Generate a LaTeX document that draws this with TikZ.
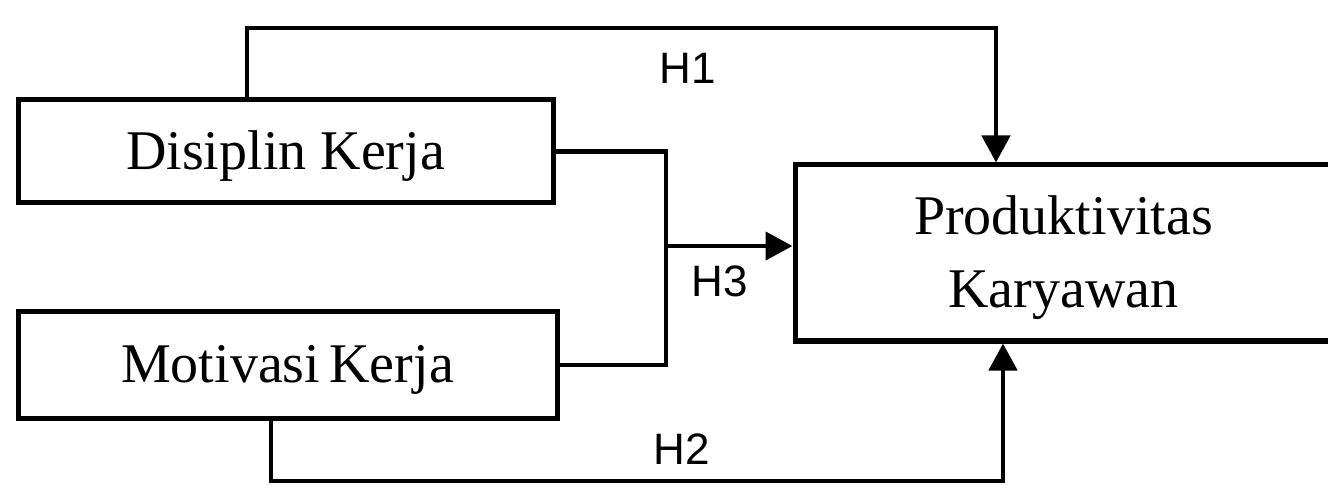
\documentclass[tikz,border=0pt]{standalone}
\usepackage{fontspec}
\setmainfont{Liberation Serif}
\newfontfamily\labfont{Liberation Sans}
\usetikzlibrary{arrows.meta}
\begin{document}
\begin{tikzpicture}[x=1pt,y=-1pt,
  varbox/.style={draw=black, line width=5pt, inner sep=0pt, align=center,
    font=\fontsize{56}{72}\selectfont},
  conn/.style={draw=black, line width=4.5pt},
  arr/.style={conn, -{Triangle[length=27pt,width=28pt]}},
  hlab/.style={font=\labfont\fontsize{44}{44}\selectfont, inner sep=0pt}]
\useasboundingbox (0,0) rectangle (1328,486);
\clip (0,0) rectangle (1328,486);
\fill[white] (0,0) rectangle (1328,486);
\node[varbox, minimum width=535pt, minimum height=103pt] (dk) at (285.5,151.5) {\raisebox{-5pt}[\height][\depth]{Disiplin Kerja}};
\node[varbox, minimum width=539pt, minimum height=106pt] (mk) at (287.5,365) {\raisebox{-5pt}[\height][\depth]{Motivasi\,Kerja}};
\node[varbox, minimum width=537pt, minimum height=176pt] (pk) at (1063.5,253) {\raisebox{-4pt}[\height][\depth]{\begin{tabular}{@{}c@{}}Produktivitas\\[1pt]Karyawan\end{tabular}}};
\coordinate (h1l) at (247,28);
\coordinate (h1r) at (996,28);
\coordinate (h2l) at (271,481);
\coordinate (h2r) at (1003,481);
\coordinate (jt) at (666,151.5);
\coordinate (jb) at (666,365);
\coordinate (j) at (666,246);
\draw[arr] (dk.north -| h1l) -- (h1l) -- (h1r) -- (h1r |- pk.north);
\draw[arr] (mk.south -| h2l) -- (h2l) -- (h2r) -- (h2r |- pk.south);
\draw[conn] (dk.east) -- (jt) -- (jb) -- (mk.east);
\draw[arr] (j) -- (j -| pk.west);
\node[hlab] (l1) at (688,68) {H1};
\node[hlab] (l2) at (682,449) {H2};
\node[hlab] (l3) at (720,281) {H3};
\end{tikzpicture}
\end{document}
